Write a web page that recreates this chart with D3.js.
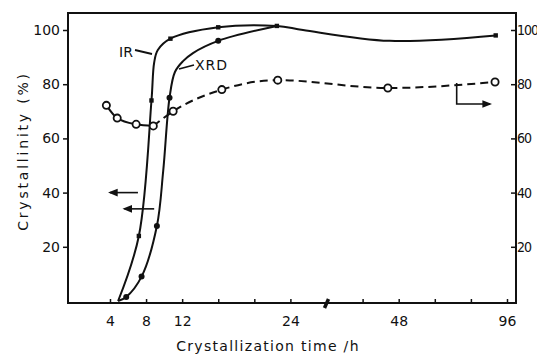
<!DOCTYPE html>
<html>
<head>
<meta charset="utf-8">
<script src="https://cdn.jsdelivr.net/npm/d3@7"></script>
<style>
  body { margin: 0; background: #fff; }
  text { font-family: "DejaVu Sans", sans-serif; fill: #111; }
</style>
</head>
<body>
<div id="chart"></div>
<script>
"use strict";

// crystallization time (h) and crystallinity (%)
const irTime   = [4.9, 7.2, 8.6, 8.9, 9.3, 10.7, 16, 22.5, 26.8, 46, 91];
const irValue  = [0, 24, 74, 88, 92.6, 96.8, 101, 101.5, 100, 96, 98];
const irMarked = [0, 1, 1, 0, 0, 1, 1, 1, 0, 0, 1];

const xrdTime   = [4.9, 5.8, 7.5, 9.2, 9.9, 10.6, 11.2, 12.1, 13.2, 16, 22.5];
const xrdValue  = [0, 1.5, 9, 27.7, 48, 75, 84.5, 88.5, 91.5, 96, 101.5];
const xrdMarked = [0, 1, 1, 1, 0, 1, 0, 0, 0, 1, 0];

// open circles, right axis
const openTime  = [3.6, 4.8, 6.9, 8.8, 11, 16.4, 22.6, 45.6, 90.7];
const openValue = [72.2, 67.5, 65.2, 64.6, 70, 78, 81.5, 78.6, 80.8];

const xTickValues = [4, 8, 12, 16, 20, 24, 40, 48, 64, 80, 96];
const xTickLabels = [4, 8, 12, 24, 48, 96];
const yTickValues = [20, 40, 60, 80, 100];

const msm = {
    width: 537,
    height: 358,
    left: 68,
    right: 516,
    top: 13,
    bottom: 303
}

const svg = d3.select("#chart")
    .append("svg")
    .attr("width", msm.width)
    .attr("height", msm.height);

// broken time axis: linear to 24 h, then compressed
let xScale = d3.scaleLinear()
    .domain([0, 24, 48, 96])
    .range([73.9, 290.4, 398.7, 507]);

let yScale = d3.scaleLinear()
    .domain([0, 100])
    .range([301, 30]);

let yRight = d3.scaleLinear()
    .domain([0, 100])
    .range([301, 30]);

// frame
svg.append("rect")
    .attr("x", msm.left)
    .attr("y", msm.top)
    .attr("width", msm.right - msm.left)
    .attr("height", msm.bottom - msm.top)
    .attr("fill", "none")
    .attr("stroke", "#111")
    .attr("stroke-width", 2);

// bottom axis
let xAxis = d3.axisBottom(xScale)
    .tickValues(xTickValues)
    .tickSizeInner(-4)
    .tickSizeOuter(0)
    .tickPadding(13)
    .tickFormat(d => xTickLabels.includes(d) ? d : "");
let gx = svg.append("g")
    .attr("transform", "translate(0," + msm.bottom + ")")
    .call(xAxis);
gx.select(".domain").remove();
gx.selectAll("line").attr("stroke", "#111").attr("stroke-width", 1.5);
gx.selectAll("text").style("font-size", "14px").attr("fill", "#111");

// axis break mark
svg.append("line")
    .attr("x1", xScale(32) - 2).attr("y1", msm.bottom + 5)
    .attr("x2", xScale(32) + 2).attr("y2", msm.bottom - 4)
    .attr("stroke", "#111")
    .attr("stroke-width", 3.5);

// left axis
let yAxis = d3.axisLeft(yScale)
    .tickValues(yTickValues)
    .tickSizeInner(5)
    .tickSizeOuter(0)
    .tickPadding(3);
let gy = svg.append("g")
    .attr("transform", "translate(" + msm.left + ",0)")
    .call(yAxis);
gy.select(".domain").remove();
gy.selectAll("line").attr("stroke", "#111").attr("stroke-width", 1.5);
gy.selectAll("text").style("font-size", "14px").attr("fill", "#111");

// right axis
let yAxisR = d3.axisRight(yRight)
    .tickValues(yTickValues)
    .tickSizeInner(-5)
    .tickSizeOuter(0)
    .tickPadding(1);
let gyr = svg.append("g")
    .attr("transform", "translate(" + msm.right + ",0)")
    .call(yAxisR);
gyr.select(".domain").remove();
gyr.selectAll("line").attr("stroke", "#111").attr("stroke-width", 1.5);
gyr.selectAll("text")
    .style("font-family", "'DejaVu Sans Condensed', 'DejaVu Sans', sans-serif")
    .style("font-size", "14px")
    .style("letter-spacing", "-1px")
    .attr("fill", "#111");

// series
let ir = irTime.map((t, i) => ({ t: t, v: irValue[i], m: irMarked[i] }));
let xrd = xrdTime.map((t, i) => ({ t: t, v: xrdValue[i], m: xrdMarked[i] }));
let open = openTime.map((t, i) => ({ t: t, v: openValue[i] }));

let line = d3.line()
    .x(d => xScale(d.t))
    .y(d => yScale(d.v))
    .curve(d3.curveCatmullRom.alpha(0.5));

let lineR = d3.line()
    .x(d => xScale(d.t))
    .y(d => yRight(d.v))
    .curve(d3.curveMonotoneX);

svg.append("path").datum(ir)
    .attr("d", line)
    .attr("fill", "none").attr("stroke", "#111").attr("stroke-width", 2);

svg.append("path").datum(xrd)
    .attr("d", line)
    .attr("fill", "none").attr("stroke", "#111").attr("stroke-width", 2);

svg.append("path").datum(open.slice(0, 4))
    .attr("d", lineR)
    .attr("fill", "none").attr("stroke", "#111").attr("stroke-width", 2);

svg.append("path").datum(open.slice(3))
    .attr("d", lineR)
    .attr("fill", "none").attr("stroke", "#111").attr("stroke-width", 2)
    .attr("stroke-dasharray", "8,5");

svg.selectAll(".irDot")
    .data(ir.filter(d => d.m))
    .enter()
    .append("rect")
    .attr("class", "irDot")
    .attr("x", d => xScale(d.t) - 2.2)
    .attr("y", d => yScale(d.v) - 2.2)
    .attr("width", 4.4)
    .attr("height", 4.4)
    .attr("fill", "#111");

svg.selectAll(".xrdDot")
    .data(xrd.filter(d => d.m))
    .enter()
    .append("circle")
    .attr("class", "xrdDot")
    .attr("cx", d => xScale(d.t))
    .attr("cy", d => yScale(d.v))
    .attr("r", 3)
    .attr("fill", "#111");

svg.selectAll(".openDot")
    .data(open)
    .enter()
    .append("circle")
    .attr("class", "openDot")
    .attr("cx", d => xScale(d.t))
    .attr("cy", d => yRight(d.v))
    .attr("r", 3.6)
    .attr("fill", "#fff")
    .attr("stroke", "#111")
    .attr("stroke-width", 1.8);

// curve labels
svg.append("text")
    .attr("x", 119).attr("y", 57)
    .style("font-size", "14px")
    .text("IR");
svg.append("line")
    .attr("x1", 135).attr("y1", 50).attr("x2", 152).attr("y2", 54)
    .attr("stroke", "#111").attr("stroke-width", 1.8);

svg.append("text")
    .attr("x", 195).attr("y", 70)
    .style("font-size", "14px")
    .style("letter-spacing", "1px")
    .text("XRD");
svg.append("line")
    .attr("x1", 179).attr("y1", 69).attr("x2", 194).attr("y2", 65)
    .attr("stroke", "#111").attr("stroke-width", 1.8);

// axis arrows
let defs = svg.append("defs");
defs.append("marker")
    .attr("id", "head")
    .attr("viewBox", "0 0 10 10")
    .attr("refX", 8).attr("refY", 5)
    .attr("markerWidth", 6).attr("markerHeight", 6)
    .attr("orient", "auto")
    .append("path")
    .attr("d", "M0,1 L10,5 L0,9 Z")
    .attr("fill", "#111");

svg.append("line")
    .attr("x1", xScale(7.1)).attr("y1", yScale(40))
    .attr("x2", xScale(4.0)).attr("y2", yScale(40))
    .attr("stroke", "#111").attr("stroke-width", 1.6)
    .attr("marker-end", "url(#head)");

svg.append("line")
    .attr("x1", xScale(8.9)).attr("y1", yScale(34))
    .attr("x2", xScale(5.6)).attr("y2", yScale(34))
    .attr("stroke", "#111").attr("stroke-width", 1.6)
    .attr("marker-end", "url(#head)");

svg.append("path")
    .attr("d", "M" + xScale(73.7) + "," + yRight(80.4) +
               " L" + xScale(73.7) + "," + yRight(72.7) +
               " L" + xScale(88.5) + "," + yRight(72.7))
    .attr("fill", "none")
    .attr("stroke", "#111").attr("stroke-width", 1.6)
    .attr("marker-end", "url(#head)");

// axis titles
svg.append("text")
    .attr("transform", "translate(28,151) rotate(-90)")
    .attr("text-anchor", "middle")
    .style("font-size", "14px")
    .style("letter-spacing", "2.8px")
    .text("Crystallinity (%)");

svg.append("text")
    .attr("x", 268).attr("y", 351)
    .attr("text-anchor", "middle")
    .style("font-size", "14px")
    .style("letter-spacing", "1.3px")
    .text("Crystallization time /h");
</script>
</body>
</html>
